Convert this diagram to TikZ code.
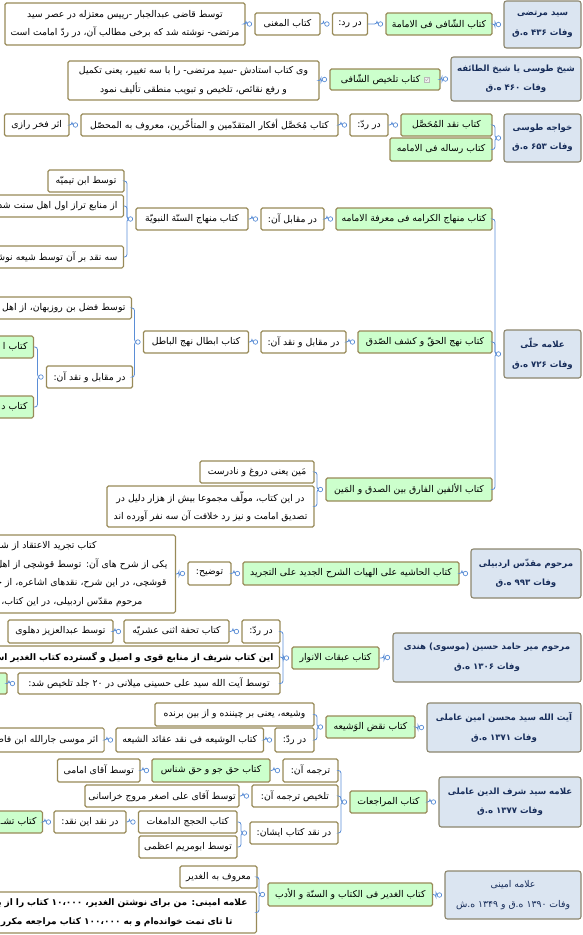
\documentclass[tikz,border=0pt]{standalone}
\usepackage{fontspec}
\setmainfont[Script=Arabic]{DejaVu Sans}
\TeXXeTstate=1
\newcommand{\rl}[1]{\beginR #1\endR}
\definecolor{boxline}{RGB}{152,138,88}
\definecolor{rootline}{RGB}{140,134,110}
\definecolor{rootfill}{RGB}{219,229,241}
\definecolor{greenfill}{RGB}{204,255,204}
\definecolor{linkblue}{RGB}{91,142,214}
\definecolor{rootink}{RGB}{23,45,90}
\tikzset{
  box/.style={draw=boxline, line width=1.1pt, rounded corners=1.5pt, minimum height=22, inner sep=0pt, font=\fontsize{9.3}{18.5}\selectfont, text=black},
  wbox/.style={box, fill=white},
  gbox/.style={box, fill=greenfill},
  root/.style={box, draw=rootline, fill=rootfill, text=rootink, align=center, rounded corners=2.5pt, font=\bfseries\fontsize{8.6}{19.5}\selectfont},
  heavy/.style={font=\bfseries\fontsize{9}{19}\selectfont},
  lefttrim/.style={text width=#1, align=right, inner xsep=6pt},
  link/.style={draw=linkblue, line width=0.8pt, rounded corners=2.5pt},
  knob/.style={circle, draw=linkblue, fill=white, line width=0.7pt, inner sep=0pt, minimum size=4.5pt},
  notebox/.style={draw=gray!55, fill=gray!12, line width=0.5pt, inner sep=0pt, minimum size=5pt}
}
\begin{document}
\begin{tikzpicture}[x=1pt,y=-1pt]
\useasboundingbox (0,0) rectangle (582,935);
\clip (0,0) rectangle (582,935);

\node[root, minimum width=77, minimum height=47] (r1) at (542.5,24.5) {\rl{سید مرتضی}\\\rl{وفات ۴۳۶ ه.ق}};
\node[gbox, minimum width=106] (b1) at (439,24) {\rl{کتاب الشّافی فی الامامة}};
\node[wbox, minimum width=35] (d1) at (350,24) {\rl{در رد:}};
\node[wbox, minimum width=65] (m1) at (287.5,24) {\rl{کتاب المغنی}};
\node[wbox, minimum width=240, minimum height=42, align=center] (t1) at (125,24) {\rl{توسط قاضی عبدالجبار -رییس معتزله در عصر سید}\\\rl{مرتضی- نوشته شد که برخی مطالب آن، در ردّ امامت است}};

\node[root, minimum width=130, minimum height=44] (r2) at (516,79) {\rl{شیخ طوسی یا شیخ الطائفه}\\\rl{وفات ۴۶۰ ه.ق}};
\node[gbox, minimum width=110, minimum height=21] (b2) at (385,79.5) {\rl{کتاب تلخیص الشّافی}\hspace*{9pt}};
\node[notebox] (note) at ([xshift=-14pt]b2.east) {};
\draw[gray!60, line width=0.5pt] ([xshift=-1.5pt]note.center) -- ([yshift=-1.2pt]note.center) -- ([xshift=1.8pt,yshift=1.5pt]note.center);
\node[wbox, minimum width=251, minimum height=39, align=center] (t2) at (193.5,80.5) {\rl{وی کتاب استادش -سید مرتضی- را با سه تغییر، یعنی تکمیل}\\\rl{و رفع نقائص، تلخیص و تبویب منطقی تألیف نمود}};

\node[root, minimum width=77, minimum height=48] (r3) at (542.5,138) {\rl{خواجه طوسی}\\\rl{وفات ۶۵۳ ه.ق}};
\node[gbox, minimum width=91] (b3a) at (446.5,125) {\rl{کتاب نقد المُحَصَّل}};
\node[gbox, minimum width=102, minimum height=23] (b3b) at (441,149.5) {\rl{کتاب رساله فی الامامه}};
\node[wbox, minimum width=38] (d3) at (369,125) {\rl{در ردّ:}};
\node[wbox, minimum width=257] (m3) at (209.5,125) {\rl{کتاب مُحَصَّل أفکار المتقدّمین و المتأخّرین، معروف به المحصّل}};
\node[wbox, minimum width=64.5] (f3) at (36.75,125) {\rl{اثر فخر رازی}};

\node[root, minimum width=77, minimum height=48] (r4) at (542.5,354) {\rl{علامه حلّی}\\\rl{وفات ۷۲۶ ه.ق}};
\node[gbox, minimum width=156] (b4a) at (414,219) {\rl{کتاب منهاج الکرامه فی معرفة الامامه}};
\node[wbox, minimum width=63] (d4a) at (292.5,219) {\rl{در مقابل آن:}};
\node[wbox, minimum width=112] (m4a) at (192,219) {\rl{کتاب منهاج السنّة النبویّة}};
\node[wbox, minimum width=76] (k1) at (86,181) {\rl{توسط ابن تیمیّه}};
\node[wbox, lefttrim=150, anchor=east] (k2) at (124,206) {\rl{از منابع تراز اول اهل سنت شد}};
\node[wbox, lefttrim=150, anchor=east] (k3) at (124,257) {\rl{سه نقد بر آن توسط شیعه نوشـ}};
\node[gbox, minimum width=134] (b4b) at (425,342) {\rl{کتاب نهج الحقّ و کشف الصّدق}};
\node[wbox, minimum width=85] (d4b) at (303.5,342) {\rl{در مقابل و نقد آن:}};
\node[wbox, minimum width=105] (m4b) at (196,342) {\rl{کتاب ابطال نهج الباطل}};
\node[wbox, lefttrim=150, anchor=east] (k4) at (132,308) {\rl{توسط فضل بن روزبهان، از اهل سـ}};
\node[wbox, minimum width=86] (k5) at (89.5,377) {\rl{در مقابل و نقد آن:}};
\node[gbox, lefttrim=60, anchor=east] (g1) at (34,347) {\rl{کتاب ا}};
\node[gbox, lefttrim=60, anchor=east] (g2) at (34,407) {\rl{کتاب د}};
\node[gbox, minimum width=166, minimum height=23] (b4c) at (409,489.5) {\rl{کتاب الألفین الفارق بین الصدق و المَین}};
\node[wbox, minimum width=114] (k6) at (257,472) {\rl{مَین یعنی دروغ و نادرست}};
\node[wbox, minimum width=207, minimum height=41, align=center] (k7) at (210.5,506.5) {\rl{در این کتاب، مولّف مجموعا بیش از هزار دلیل در}\\\rl{تصدیق امامت و نیز رد خلافت آن سه نفر آورده اند}};

\node[root, minimum width=110, minimum height=49] (r5) at (526,573.5) {\rl{مرحوم مقدّس اردبیلی}\\\rl{وفات ۹۹۳ ه.ق}};
\node[gbox, minimum width=216, minimum height=23] (b5) at (351,573.5) {\rl{کتاب الحاشیه علی الهیات الشرح الجدید علی التجرید}};
\node[wbox, minimum width=43, minimum height=23] (d5) at (209.5,573.5) {\rl{توضیح:}};
\node[wbox, lefttrim=250, anchor=east, minimum height=78] (t5) at (176,574) {\rl{کتاب تجرید الاعتقاد از شـ}\hspace*{73pt}\mbox{}\\\rl{یکی از شرح های آن: توسط قوشچی از اهل سـ}\hspace*{2pt}\mbox{}\\\rl{قوشچی، در این شرح، نقدهای اشاعره، از جـ}\hspace*{3pt}\mbox{}\\\rl{مرحوم مقدّس اردبیلی، در این کتاب،}\hspace*{27pt}\mbox{}};

\node[root, minimum width=188, minimum height=49] (r6) at (487,657.5) {\rl{مرحوم میر حامد حسین (موسوی) هندی}\\\rl{وفات ۱۳۰۶ ه.ق}};
\node[gbox, minimum width=87] (b6) at (335.5,658) {\rl{کتاب عبقات الانوار}};
\node[wbox, minimum width=38, minimum height=23] (d6) at (261,631.5) {\rl{در ردّ:}};
\node[wbox, minimum width=105, minimum height=23] (m6) at (176.5,631.5) {\rl{کتاب تحفة اثنی عشریّه}};
\node[wbox, minimum width=105, minimum height=23] (a6) at (60.5,631.5) {\rl{توسط عبدالعزیز دهلوی}};
\node[wbox, heavy, lefttrim=330, anchor=east] (e6) at (280,657) {\rl{این کتاب شریف از منابع قوی و اصیل و گسترده کتاب الغدیر است}};
\node[wbox, minimum width=262, minimum height=21] (s6) at (149,683.5) {\rl{توسط آیت الله سید علی حسینی میلانی در ۲۰ جلد تلخیص شد:}};
\node[gbox, minimum width=67, minimum height=21] (g6) at (-26.5,683.5) {};

\node[root, minimum width=154, minimum height=49] (r7) at (504,727.5) {\rl{آیت الله سید محسن امین عاملی}\\\rl{وفات ۱۳۷۱ ه.ق}};
\node[gbox, minimum width=89] (b7) at (370.5,727) {\rl{کتاب نقض الوَشیعه}};
\node[wbox, minimum width=159, minimum height=23] (k8) at (234.5,714.5) {\rl{وشیعه، یعنی بر چیننده و از بین برنده}};
\node[wbox, minimum width=39, minimum height=24] (d7) at (294.5,740) {\rl{در ردّ:}};
\node[wbox, minimum width=147.5, minimum height=24] (m7) at (189.75,740) {\rl{کتاب الوشیعه فی نقد عقائد الشیعه}};
\node[wbox, lefttrim=140, anchor=east, minimum height=24] (a7) at (104.7,740) {\rl{اثر موسی جارالله ابن فاطـ}};

\node[root, minimum width=142, minimum height=50] (r8) at (510,802) {\rl{علامه سید شرف الدین عاملی}\\\rl{وفات ۱۳۷۷ ه.ق}};
\node[gbox, minimum width=77] (b8) at (388.5,802) {\rl{کتاب المراجعات}};
\node[wbox, minimum width=55, minimum height=23] (d8a) at (310.5,770.5) {\rl{ترجمه آن:}};
\node[gbox, minimum width=118, minimum height=23] (g8a) at (211,770.5) {\rl{کتاب حق جو و حق شناس}};
\node[wbox, minimum width=82.5, minimum height=23] (a8a) at (98.75,770.5) {\rl{توسط آقای امامی}};
\node[wbox, minimum width=86] (d8b) at (295,796) {\rl{تلخیص ترجمه آن:}};
\node[wbox, minimum width=154] (a8b) at (162,796) {\rl{توسط آقای علی اصغر مروج خراسانی}};
\node[wbox, minimum width=88] (d8c) at (294,833) {\rl{در نقد کتاب ایشان:}};
\node[wbox, minimum width=98.5] (m8) at (187.75,822) {\rl{کتاب الحجج الدامغات}};
\node[wbox, minimum width=98] (a8c) at (188,847) {\rl{توسط ابومریم اعظمی}};
\node[wbox, minimum width=72] (n8) at (90,822) {\rl{در نقد این نقد:}};
\node[gbox, lefttrim=70, anchor=east] (g8b) at (43,822) {\rl{کتاب تشـ}};

\node[root, minimum width=136, minimum height=48, font=\fontsize{9.3}{19.5}\selectfont] (r9) at (513,895) {\rl{علامه امینی}\\\rl{وفات ۱۳۹۰ ه.ق و ۱۳۴۹ ه.ش}};
\node[gbox, minimum width=164.5, minimum height=23] (b9) at (350.25,894.5) {\rl{کتاب الغدیر فی الکتاب و السنّة و الأدب}};
\node[wbox, minimum width=77] (k9) at (218.5,877) {\rl{معروف به الغدیر}};
\node[wbox, heavy, lefttrim=345, anchor=east, minimum height=41] (t9) at (257,912.5) {\rl{علامه امینی: من برای نوشتن الغدیر، ۱۰،۰۰۰ کتاب را از بای بـ}\hspace*{3pt}\mbox{}\\\rl{تا تای تمت خوانده‌ام و به ۱۰۰،۰۰۰ کتاب مراجعه مکرر دا}\hspace*{18pt}\mbox{}};

\foreach \p/\c in {r1/b1,b1/d1,d1/m1,m1/t1,r2/b2,b2/t2,r3/b3a,r3/b3b,b3a/d3,d3/m3,m3/f3,
  r4/b4a,r4/b4b,r4/b4c,b4a/d4a,d4a/m4a,m4a/k1,m4a/k2,m4a/k3,b4b/d4b,d4b/m4b,m4b/k4,m4b/k5,k5/g1,k5/g2,b4c/k6,b4c/k7,
  r5/b5,b5/d5,d5/t5,r6/b6,b6/d6,b6/e6,b6/s6,d6/m6,m6/a6,s6/g6,r7/b7,b7/k8,b7/d7,d7/m7,m7/a7,
  r8/b8,b8/d8a,b8/d8b,b8/d8c,d8a/g8a,g8a/a8a,d8b/a8b,d8c/m8,d8c/a8c,m8/n8,n8/g8b,r9/b9,b9/k9,b9/t9}
  \draw[link] (\p.west) ++(-5,0) -- ++(-3.5,0) |- (\c.east);
\foreach \p in {r1,b1,d1,m1,r2,b2,r3,b3a,d3,m3,r4,b4a,d4a,m4a,b4b,d4b,m4b,k5,b4c,r5,b5,d5,
  r6,b6,d6,m6,s6,r7,b7,d7,m7,r8,b8,d8a,g8a,d8b,d8c,m8,n8,r9,b9}
  \path (\p.west) ++(-5,0) node[knob] {};
\end{tikzpicture}
\end{document}
